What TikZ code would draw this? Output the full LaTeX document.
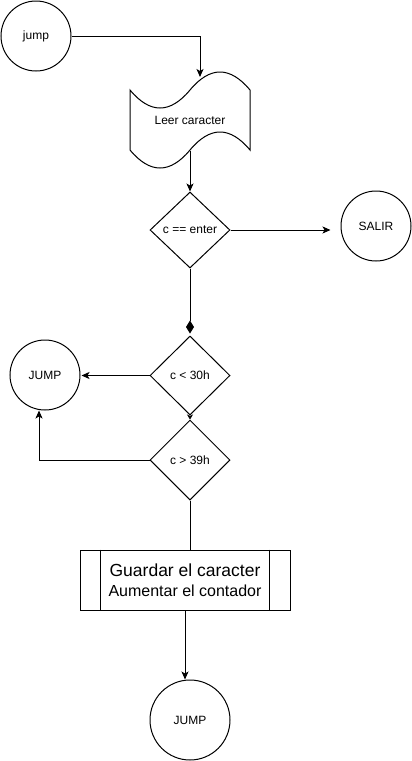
\documentclass[tikz,border=0pt]{standalone}
\usepackage{fontspec}
\setmainfont{Liberation Sans}
\usetikzlibrary{shapes.geometric,arrows.meta,calc}
\begin{document}
\begin{tikzpicture}[x=1pt,y=-1pt,line width=1pt,
  every node/.style={font=\fontsize{12}{14}\selectfont},
  term/.style={circle,draw,minimum size=70pt,inner sep=0pt},
  decis/.style={diamond,draw,minimum width=80pt,minimum height=80pt,inner sep=0pt},
  arr/.style={-{Stealth[length=8pt,width=7pt,inset=2pt]}},
  dmd/.style={-{Diamond[length=13pt,width=8pt]}}]
\useasboundingbox (0,0) rectangle (412,761);

% nodes
\node[term] (jump) at (36,36) {jump};
\node[minimum width=120pt,minimum height=60pt,inner sep=0pt] (tape) at (190,120) {Leer caracter};
\draw (130,90) .. controls (150,114) and (170,114) .. (190,90)
      .. controls (210,66) and (230,66) .. (250,90) -- (250,150)
      .. controls (230,126) and (210,126) .. (190,150)
      .. controls (170,174) and (150,174) .. (130,150) -- cycle;
\coordinate (tapein) at (200,77);
\node[decis,minimum height=76pt] (d1) at (190,230) {c == enter};
\node[term] (salir) at (376,226) {SALIR};
\node[decis,minimum height=79pt] (d2) at (190,375.5) {c < 30h};
\node[term] (jump2) at (45,375) {JUMP};
\node[decis] (d3) at (190,460) {c > 39h};
\node[draw,minimum width=210pt,minimum height=60pt,inner sep=0pt,align=center,
      font=\fontsize{16}{20}\selectfont] (box) at (185,580)
      {{\fontsize{17.5}{20}\selectfont Guardar el caracter}\\Aumentar el contador};
\draw ([xshift=21pt]box.north west) -- ([xshift=21pt]box.south west);
\draw ([xshift=-21pt]box.north east) -- ([xshift=-21pt]box.south east);
\node[term,minimum size=80pt] (jump3) at (190,720) {JUMP};

% connectors
\draw[arr] (jump.east) -| (tapein);
\draw[arr] (tape.south) -- (d1.north);
\draw[arr,shorten >=10pt] (d1.east) -- (d1.east -| salir.west);
\draw[dmd,shorten >=2pt] (d1.south) -- (d2.north);
\draw[arr,shorten >=1pt] (d2.west) -- (d2.west -| jump2.east);
\draw[-{Stealth[length=5pt,width=6pt,inset=1.5pt]}] (d2.south) -- (d3.north);
\draw[arr] (d3.west) -| ([xshift=-6pt]jump2.south);
\draw (d3.south) -- (d3.south |- box.north);
\draw[arr] (box.south) -- (box.south |- jump3.north);
\end{tikzpicture}
\end{document}
